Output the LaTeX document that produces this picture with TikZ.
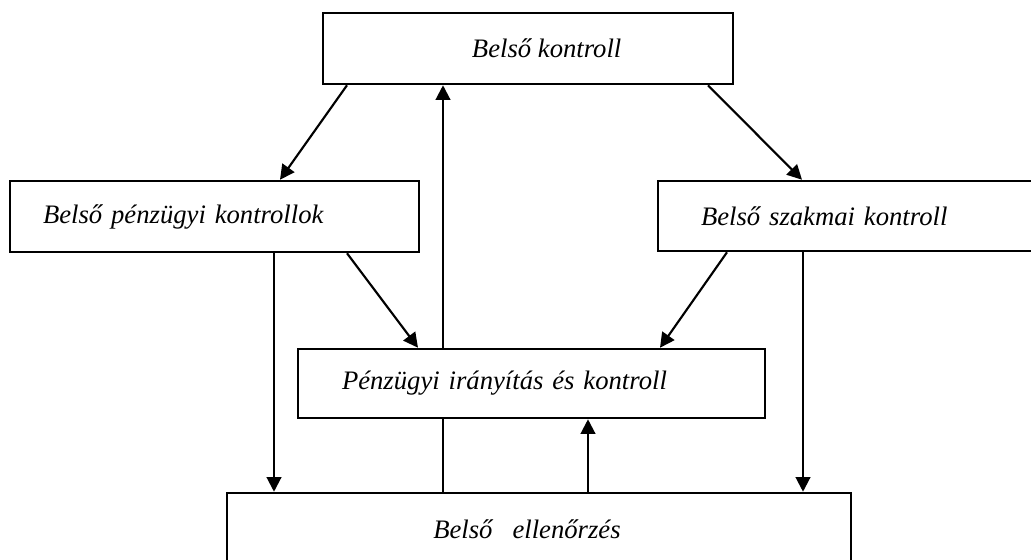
\documentclass[tikz,border=0pt]{standalone}
\usepackage{fontspec}
\setmainfont{Liberation Serif}
\usetikzlibrary{arrows.meta}

\begin{document}
\begin{tikzpicture}[x=0.75pt,y=-0.75pt]
	\tikzstyle{doboz}=[draw, rectangle, line width=1.9pt, fill=white, inner ysep=0pt, font=\fontsize{20}{24}\selectfont\itshape]
	\tikzstyle{nyil}=[line width=1.6pt, -{Triangle[length=11pt,width=11pt]}]
	\tikzstyle{vonal}=[line width=1.6pt]

	\clip (0,0) rectangle (1031,560);

	% dobozok
	\node[doboz, minimum width=307.5pt, minimum height=53.25pt, inner xsep=0pt] (bk) at (528,48.5) {\hspace*{28pt}Belső kontroll};
	\node[doboz, minimum height=53.25pt, inner xsep=24.75pt, text width=257.25pt, align=left] (bpk) at (214.5,216.5) {Belső pénzügyi kontrollok};
	\node[doboz, minimum height=52.5pt, inner xsep=32.25pt, text width=237pt, align=left] (bszk) at (859,216) {Belső szakmai kontroll};
	\node[doboz, minimum height=51.75pt, inner xsep=33pt, text width=284.25pt, align=left] (pik) at (531.5,383.5) {Pénzügyi irányítás és kontroll};
	\node[doboz, minimum width=468pt, minimum height=54pt, inner xsep=0pt] (be) at (539,529) {\hspace*{-18pt}Belső\ \ \ ellenőrzés};

	% nyilak
	\draw[nyil] (bk.south -| 347,0) -- (bpk.north -| 280,0);
	\draw[nyil] (bk.south -| 708,0) -- (bszk.north -| 802,0);
	\draw[vonal] (be.north -| 443,0) -- (pik.south -| 443,0);
	\draw[nyil] (pik.north -| 443,0) -- (bk.south -| 443,0);
	\draw[nyil] (bpk.south -| 274,0) -- (be.north -| 274,0);
	\draw[nyil] (bpk.south -| 347,0) -- (pik.north -| 418,0);
	\draw[nyil] (bszk.south -| 727,0) -- (pik.north -| 660,0);
	\draw[nyil] (bszk.south -| 803,0) -- (be.north -| 803,0);
	\draw[nyil] (be.north -| 588,0) -- (pik.south -| 588,0);
\end{tikzpicture}
\end{document}
